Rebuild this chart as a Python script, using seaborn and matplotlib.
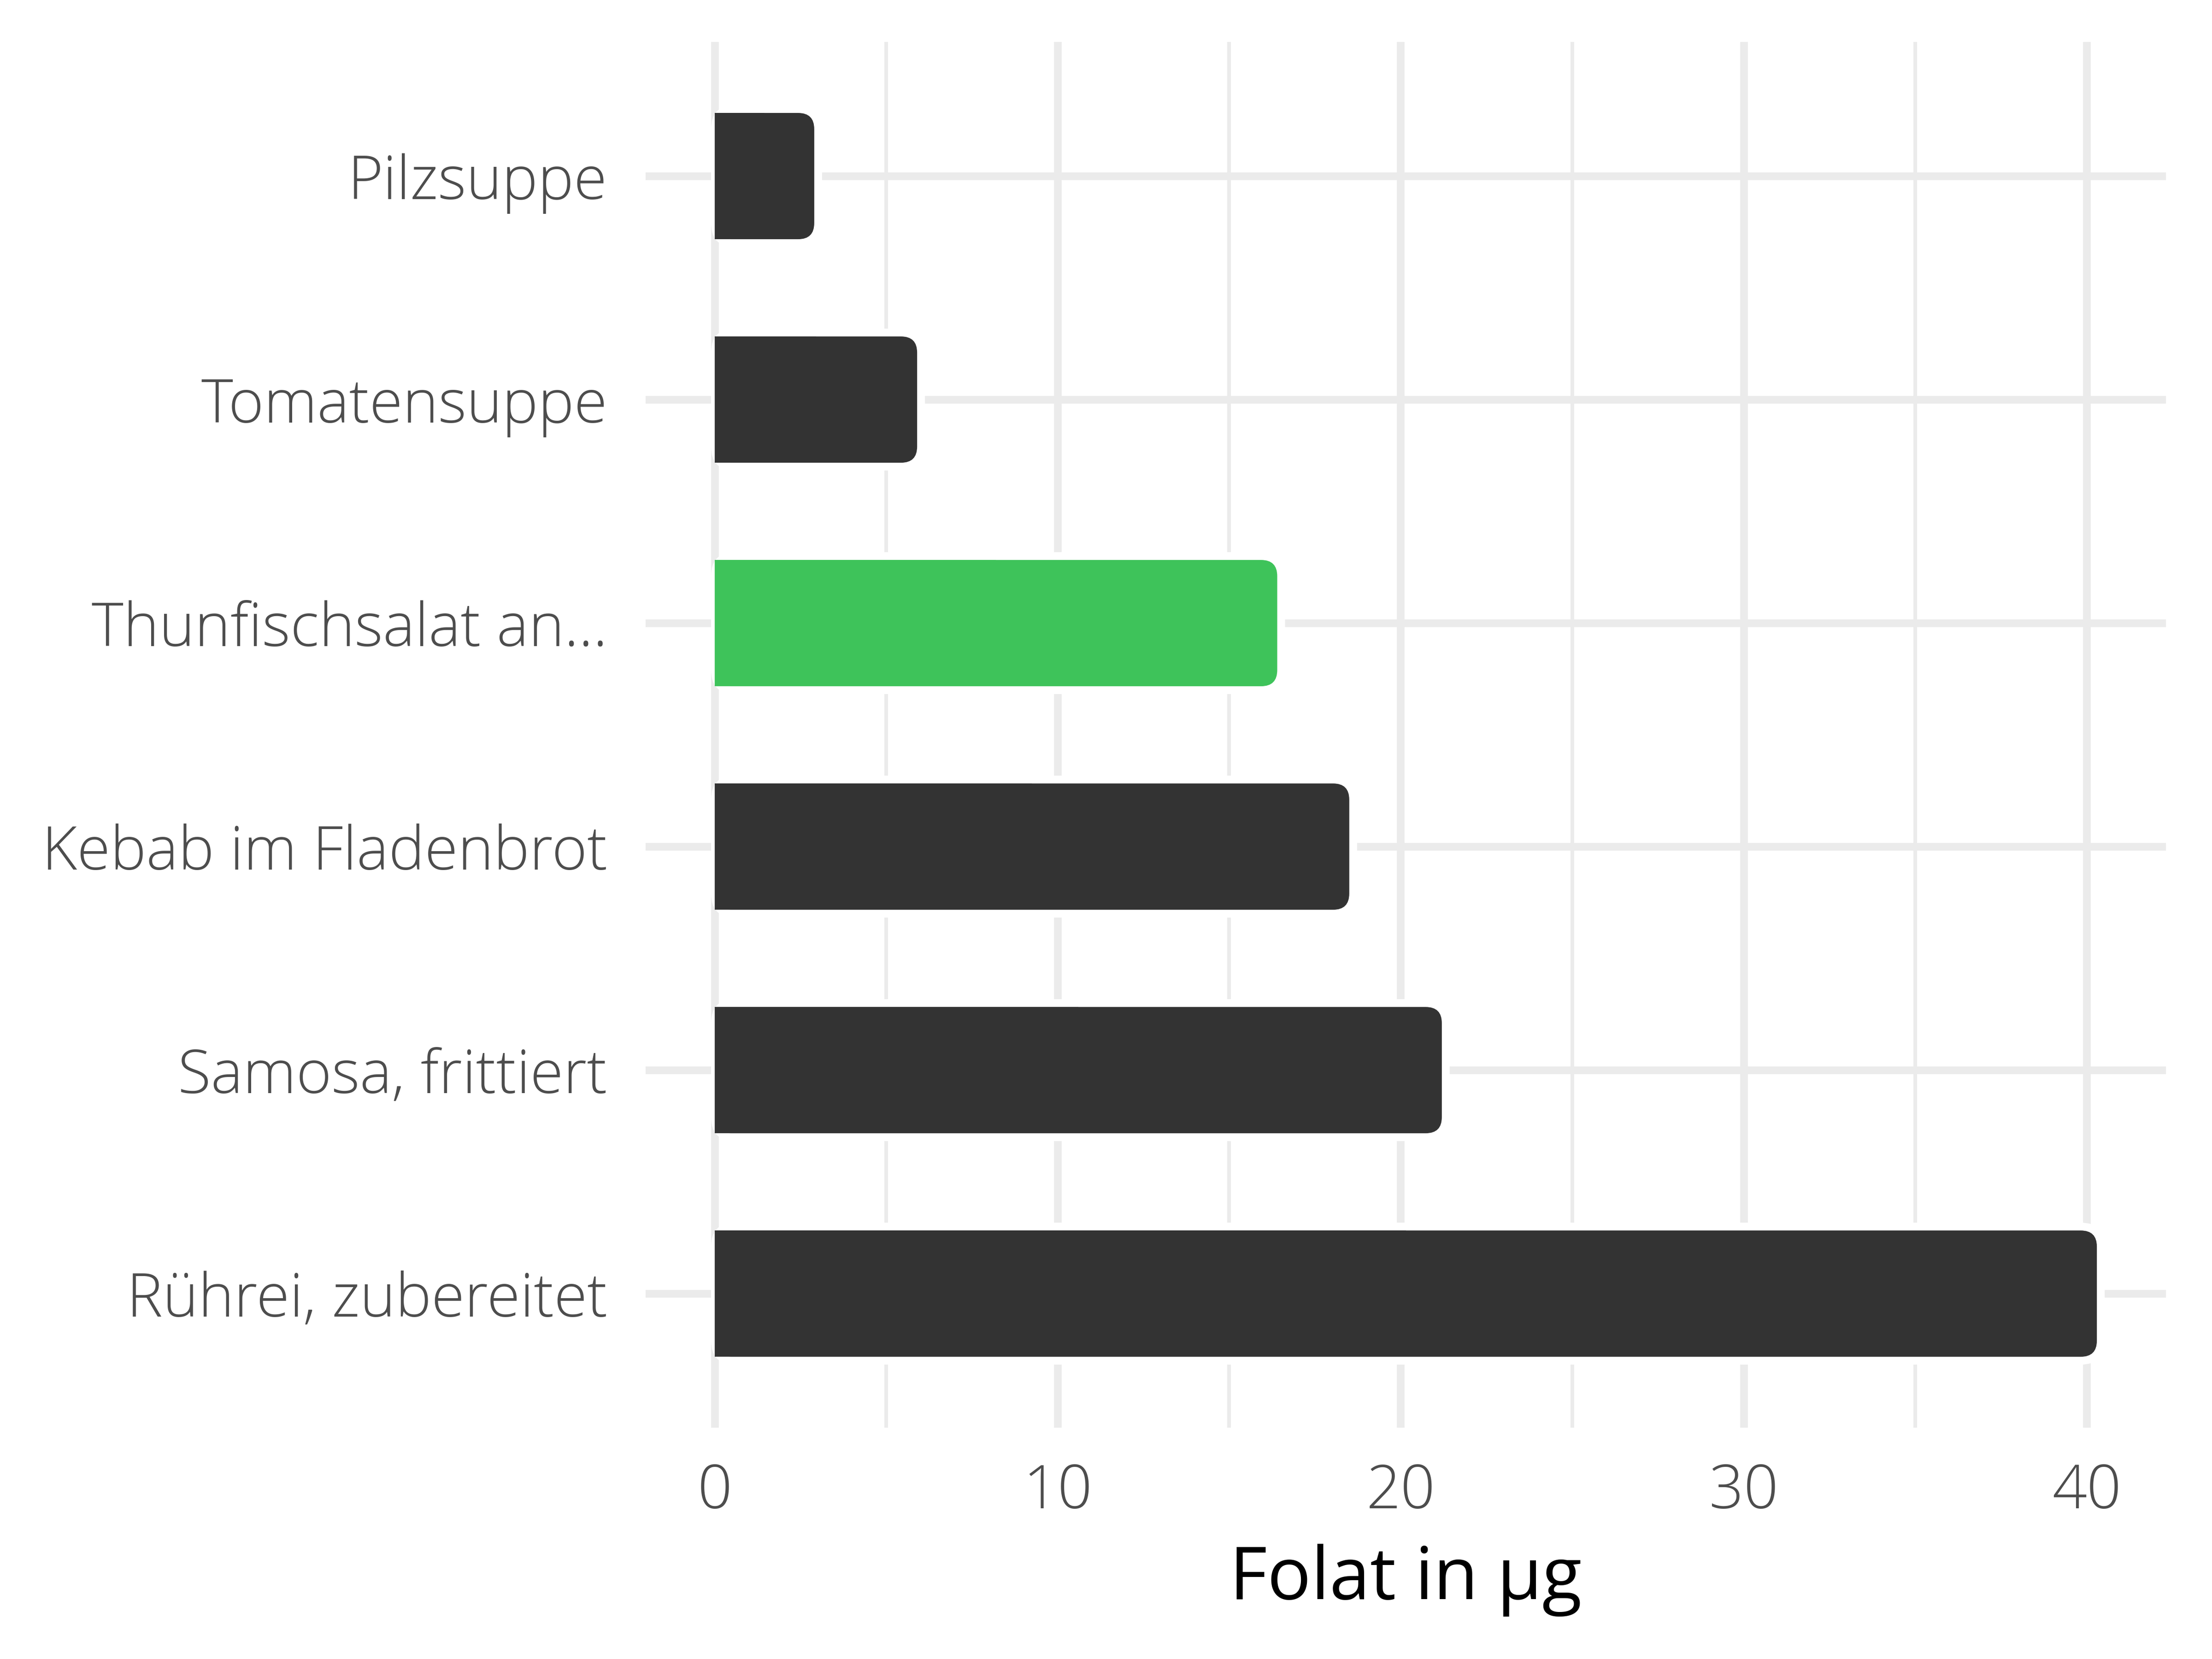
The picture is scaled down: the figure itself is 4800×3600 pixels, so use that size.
import matplotlib
matplotlib.use("Agg")
import matplotlib.pyplot as plt
import seaborn as sns
import pandas as pd
from matplotlib.patches import FancyBboxPatch, Rectangle

# data
foods = ["Pilzsuppe", "Tomatensuppe", "Thunfischsalat an...",
         "Kebab im Fladenbrot", "Samosa, frittiert", "Rührei, zubereitet"]
folat = [2.9, 5.9, 16.4, 18.5, 21.2, 40.3]
highlight = "Thunfischsalat an..."
x_ticks = [0, 10, 20, 30, 40]
x_minor = [5, 15, 25, 35]

sns.set_theme(style="white")
plt.rcParams["font.family"] = ["Open Sans", "DejaVu Sans"]

df = pd.DataFrame({"food": foods, "folat": folat})
colors = {f: ("#3EC35A" if f == highlight else "#333333") for f in foods}

fig = plt.figure(figsize=(16, 12), dpi=300)
ax_rect = [0.2919, 0.1394, 0.6873, 0.8353]
ax = fig.add_axes(ax_rect)
sns.barplot(data=df, y="food", x="folat", hue="food", palette=colors,
            order=foods, width=0.565, saturation=1, legend=False, ax=ax)

xmax = max(folat)
ax.set_xlim(-0.05 * xmax, 1.05 * xmax)
ax.set_ylim(len(foods) - 0.4, -0.6)

# rounded right ends with a white halo, like the original
ax_w = ax_rect[2] * 4800
ax_h = ax_rect[3] * 3600
xpp = (ax.get_xlim()[1] - ax.get_xlim()[0]) / ax_w
ypp = (ax.get_ylim()[0] - ax.get_ylim()[1]) / ax_h
aspect = ypp / xpp
r_px, halo, halo_left = 35, 17, 8

for p in list(ax.patches):
    x0, y0, w, h = p.get_x(), p.get_y(), p.get_width(), p.get_height()
    fc = p.get_facecolor()
    p.remove()
    # white halo behind the bar
    ax.add_patch(FancyBboxPatch(
        (x0 - halo_left * xpp, y0 - halo * ypp),
        w + (halo + halo_left) * xpp, h + 2 * halo * ypp,
        boxstyle=f"round,pad=0,rounding_size={(r_px + halo) * xpp}",
        mutation_aspect=aspect, fc="white", ec="none", zorder=2))
    ax.add_patch(FancyBboxPatch(
        (x0, y0), w, h,
        boxstyle=f"round,pad=0,rounding_size={r_px * xpp}",
        mutation_aspect=aspect, fc=fc, ec="none", zorder=3))
    # square left end
    ax.add_patch(Rectangle((x0, y0), w / 2, h, fc=fc, ec="none", zorder=4))

ax.set_xticks(x_ticks)
ax.set_xticks(x_minor, minor=True)
ax.set_axisbelow(True)
ax.grid(which="major", color="#EBEBEB", lw=4)
ax.grid(which="minor", axis="x", color="#EBEBEB", lw=1.9)
ax.tick_params(axis="both", which="both", length=0, labelsize=31.5,
               labelcolor="#4D4D4D")
ax.tick_params(axis="y", pad=20)
ax.tick_params(axis="x", pad=18)
for lab in ax.get_xticklabels() + ax.get_yticklabels():
    lab.set_fontweight("light")
for s in ax.spines.values():
    s.set_visible(False)

ax.set_ylabel("")
ax.set_xlabel("Folat in µg", fontsize=38, color="black", labelpad=11)

fig.savefig("out.png", dpi=300)
